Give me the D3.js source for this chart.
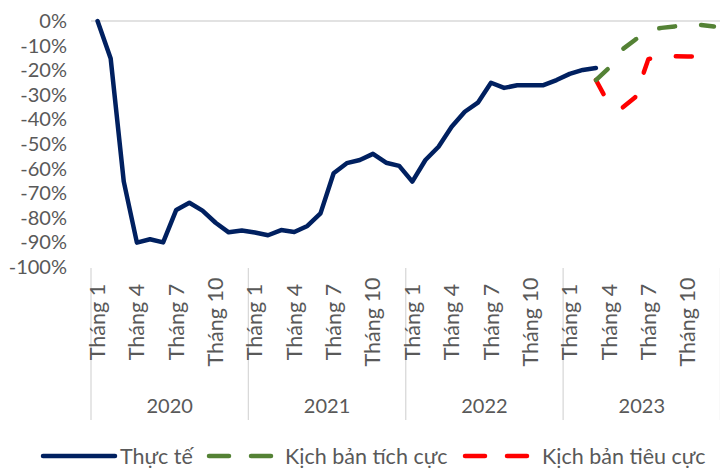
<!DOCTYPE html>
<html>
<head>
<meta charset="utf-8">
<script src="https://cdn.jsdelivr.net/npm/d3@7"></script>
<style>
  html, body { margin: 0; padding: 0; background: #fff; }
  svg { display: block; }
  text { font-family: Lato, "Noto Sans", sans-serif; fill: #595959; }
</style>
</head>
<body>
<svg id="chart" width="720" height="468"></svg>
<script>
// ---- data ----
const years = ["2020", "2021", "2022", "2023"];
const monthLabels = ["Tháng 1", "Tháng 4", "Tháng 7", "Tháng 10"];
const monthsPerYear = 12;
// Actual (Thực tế), Jan 2020 .. Mar 2023, in %
const actual = [0, -15.2, -65.3, -90.1, -88.7, -90, -76.8, -73.9, -77.1, -82, -85.9, -85.2,
  -86, -87.1, -85, -85.8, -83.3, -78.2, -61.9, -57.8, -56.5, -54, -57.6, -58.9,
  -65.3, -56.5, -51.1, -43, -36.9, -33.2, -25.1, -27.2, -26.1, -26.1, -26.1, -24,
  -21.5, -19.9, -19.1];
const scenarioStart = 38; // Mar 2023
const positive = [-24, -19.1, -11.6, -7.6, -3.8, -2.8, -2.2, -1.8, -1.6, -2.2];
const negative = [-24, -33.8, -35.3, -31, -15.5, -14.3, -14.3, -14.4, -14.5, -14.6];
const yTicks = [0, -10, -20, -30, -40, -50, -60, -70, -80, -90, -100];
const seriesNames = ["Thực tế", "Kịch bản tích cực", "Kịch bản tiêu cực"];
const colors = ["#002060", "#548235", "#FF0000"];

// ---- layout ----
const svg = d3.select("#chart");
const nMonths = years.length * monthsPerYear;
const x = d3.scaleLinear().domain([0, nMonths]).range([91, 720.5]);
const y = d3.scaleLinear().domain([-100, 0]).range([267, 21]);
const gridColor = "#D9D9D9";

// y axis labels
const yAxis = d3.axisLeft(y).tickValues(yTicks).tickSize(0).tickPadding(0)
  .tickFormat(d => d + "%");
const yg = svg.append("g").attr("transform", "translate(67,0)").call(yAxis);
yg.select(".domain").remove();
yg.selectAll("text").style("font-family", "Lato, 'Noto Sans', sans-serif")
  .style("font-size", "20px").attr("fill", "#595959");

// category axis line at 0
svg.append("line").attr("x1", x(0)).attr("x2", x(nMonths))
  .attr("y1", y(0)).attr("y2", y(0))
  .attr("stroke", gridColor).attr("stroke-width", 1.3);

// group separators
svg.append("g").selectAll("line").data(d3.range(years.length + 1)).join("line")
  .attr("x1", i => x(i * monthsPerYear)).attr("x2", i => x(i * monthsPerYear))
  .attr("y1", 268).attr("y2", 420)
  .attr("stroke", gridColor).attr("stroke-width", 1.3);

// month labels
const monthTickData = [];
years.forEach((yr, yi) => monthLabels.forEach((m, mi) => {
  monthTickData.push({ idx: yi * monthsPerYear + mi * 3, label: m });
}));
svg.append("g").selectAll("text").data(monthTickData).join("text")
  .attr("transform", d => `translate(${x(d.idx + 0.5)},322) rotate(-90)`)
  .attr("text-anchor", "middle").attr("dy", "0.35em")
  .style("font-size", "21.5px").text(d => d.label);

// year labels
svg.append("g").selectAll("text").data(years).join("text")
  .attr("x", (d, i) => x(i * monthsPerYear + monthsPerYear / 2))
  .attr("y", 413).attr("text-anchor", "middle")
  .style("font-size", "20px").text(d => d);

// lines
const line = d3.line().x(d => x(d.i + 0.5)).y(d => y(d.v));
const actualData = actual.map((v, i) => ({ i, v }));
const posData = positive.map((v, k) => ({ i: scenarioStart + k, v }));
const negData = negative.map((v, k) => ({ i: scenarioStart + k, v }));

svg.append("path").datum(negData).attr("d", line)
  .attr("fill", "none").attr("stroke", colors[2]).attr("stroke-width", 4.5)
  .attr("stroke-dasharray", "16,26").attr("stroke-linecap", "round").attr("stroke-linejoin", "round");
svg.append("path").datum(posData).attr("d", line)
  .attr("fill", "none").attr("stroke", colors[1]).attr("stroke-width", 4.5)
  .attr("stroke-dasharray", "16,26").attr("stroke-linecap", "round").attr("stroke-linejoin", "round");
svg.append("path").datum(actualData).attr("d", line)
  .attr("fill", "none").attr("stroke", colors[0]).attr("stroke-width", 4.5)
  .attr("stroke-linecap", "round").attr("stroke-linejoin", "round");

// legend
const lg = svg.append("g");
const legY = 456;
const legFont = "21.5px";
lg.append("line").attr("x1", 43).attr("x2", 115).attr("y1", legY).attr("y2", legY)
  .attr("stroke", colors[0]).attr("stroke-width", 4.5).attr("stroke-linecap", "round");
lg.append("text").attr("x", 120).attr("y", legY).attr("dy", "0.35em")
  .style("font-size", legFont).text(seriesNames[0]);
[[209, 229], [251, 271]].forEach(([a, b]) => lg.append("line")
  .attr("x1", a).attr("x2", b).attr("y1", legY).attr("y2", legY)
  .attr("stroke", colors[1]).attr("stroke-width", 4.5).attr("stroke-linecap", "round"));
lg.append("text").attr("x", 285).attr("y", legY).attr("dy", "0.35em")
  .style("font-size", legFont).text(seriesNames[1]);
[[465, 485], [507, 527]].forEach(([a, b]) => lg.append("line")
  .attr("x1", a).attr("x2", b).attr("y1", legY).attr("y2", legY)
  .attr("stroke", colors[2]).attr("stroke-width", 4.5).attr("stroke-linecap", "round"));
lg.append("text").attr("x", 542).attr("y", legY).attr("dy", "0.35em")
  .style("font-size", legFont).text(seriesNames[2]);
</script>
</body>
</html>
